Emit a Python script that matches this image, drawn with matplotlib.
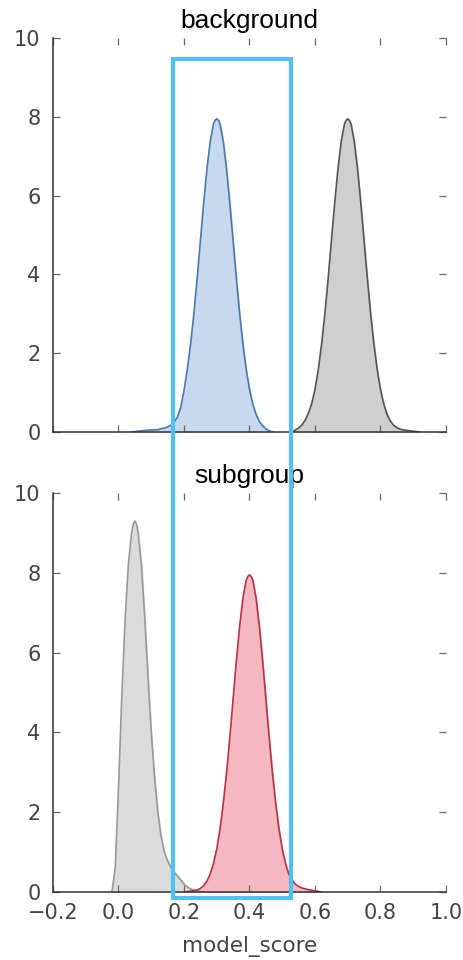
import matplotlib
matplotlib.use("Agg")
import matplotlib.pyplot as plt
from matplotlib.patches import Rectangle

# density curves
blue_x = [0.04, 0.06, 0.08, 0.10, 0.12, 0.14, 0.15, 0.16, 0.17, 0.18, 0.19, 0.20,
          0.21, 0.22, 0.23, 0.24, 0.25, 0.26, 0.27, 0.28, 0.29, 0.295, 0.30, 0.305,
          0.31, 0.32, 0.33, 0.34, 0.35, 0.36, 0.37, 0.38, 0.39, 0.40, 0.41, 0.42,
          0.43, 0.44, 0.45, 0.46, 0.47]
blue_y = [0.0, 0.02, 0.04, 0.05, 0.06, 0.1, 0.13, 0.17, 0.25, 0.38, 0.62, 1.05,
          1.58, 2.22, 2.99, 3.88, 4.84, 5.80, 6.67, 7.37, 7.82, 7.91, 7.95, 7.91,
          7.82, 7.37, 6.67, 5.80, 4.84, 3.88, 2.99, 2.22, 1.58, 1.08, 0.71, 0.45,
          0.27, 0.16, 0.08, 0.03, 0.0]

grey_top_x = [0.53, 0.55, 0.56, 0.57, 0.58, 0.59, 0.60, 0.61, 0.62, 0.63, 0.64,
              0.65, 0.66, 0.67, 0.68, 0.69, 0.695, 0.70, 0.705, 0.71, 0.72, 0.73,
              0.74, 0.75, 0.76, 0.77, 0.78, 0.79, 0.80, 0.81, 0.82, 0.83, 0.84,
              0.85, 0.86, 0.88, 0.90, 0.92]
grey_top_y = [0.0, 0.1, 0.18, 0.3, 0.48, 0.72, 1.08, 1.58, 2.22, 2.99, 3.88,
              4.84, 5.80, 6.67, 7.37, 7.82, 7.91, 7.95, 7.91, 7.82, 7.37, 6.67,
              5.80, 4.84, 3.88, 2.99, 2.22, 1.58, 1.08, 0.71, 0.45, 0.28, 0.17,
              0.11, 0.07, 0.04, 0.02, 0.0]

grey_bot_x = [-0.02, -0.01, 0.00, 0.01, 0.02, 0.03, 0.04, 0.045, 0.05, 0.055, 0.06,
              0.07, 0.08, 0.09, 0.10, 0.11, 0.12, 0.13, 0.14, 0.15, 0.16, 0.17,
              0.18, 0.19, 0.20, 0.21, 0.22, 0.23, 0.24, 0.25, 0.26]
grey_bot_y = [0.0, 0.6, 2.6, 4.9, 6.8, 8.2, 9.0, 9.22, 9.3, 9.22, 9.0,
              8.2, 6.9, 5.4, 4.0, 2.9, 2.0, 1.4, 1.0, 0.78, 0.62, 0.5,
              0.4, 0.3, 0.2, 0.13, 0.08, 0.05, 0.03, 0.01, 0.0]

red_x = [0.20, 0.22, 0.24, 0.25, 0.26, 0.27, 0.28, 0.29, 0.30, 0.31, 0.32, 0.33,
         0.34, 0.35, 0.36, 0.37, 0.38, 0.39, 0.395, 0.40, 0.405, 0.41, 0.42, 0.43,
         0.44, 0.45, 0.46, 0.47, 0.48, 0.49, 0.50, 0.51, 0.52, 0.53, 0.54, 0.55,
         0.56, 0.58, 0.60, 0.62]
red_y = [0.0, 0.02, 0.05, 0.09, 0.16, 0.27, 0.45, 0.71, 1.08, 1.58, 2.22, 2.99,
         3.88, 4.84, 5.80, 6.67, 7.37, 7.82, 7.91, 7.95, 7.91, 7.82, 7.37, 6.67,
         5.80, 4.84, 3.88, 2.99, 2.22, 1.58, 1.08, 0.71, 0.45, 0.3, 0.2, 0.14,
         0.1, 0.06, 0.03, 0.0]

# highlight box (data coords: left/top in top panel, right/bottom in bottom panel)
box_left, box_top = 0.166, 9.47
box_right, box_bottom = 0.527, -0.15

fig = plt.figure(figsize=(4.64, 9.6), dpi=100)
ax1 = fig.add_axes([0.1142, 0.55, 0.847, 0.4104])
ax2 = fig.add_axes([0.1142, 0.0708, 0.847, 0.4156])

ax1.fill_between(blue_x, blue_y, color="#c6d9ee")
ax1.plot(blue_x, blue_y, color="#4a7aa8", lw=1.2)
ax1.fill_between(grey_top_x, grey_top_y, color="#cfcfcf")
ax1.plot(grey_top_x, grey_top_y, color="#555555", lw=1.2)

ax2.fill_between(grey_bot_x, grey_bot_y, color="#dcdcdc")
ax2.plot(grey_bot_x, grey_bot_y, color="#999999", lw=1.2)
ax2.fill_between(red_x, red_y, color="#f5b8c0")
ax2.plot(red_x, red_y, color="#b8324a", lw=1.2)

for ax, title in [(ax1, "background"), (ax2, "subgroup")]:
    ax.set_xlim(-0.2, 1.0)
    ax.set_ylim(0, 10)
    ax.set_yticks([0, 2, 4, 6, 8, 10])
    ax.set_xticks([-0.2, 0.0, 0.2, 0.4, 0.6, 0.8, 1.0])
    ax.spines["top"].set_visible(False)
    ax.spines["right"].set_visible(False)
    ax.spines["left"].set_color("#333333")
    ax.spines["bottom"].set_color("#333333")
    ax.spines["left"].set_linewidth(1.1)
    ax.spines["bottom"].set_linewidth(1.1)
    ax.tick_params(direction="in", top=True, right=True, length=5, width=0.9,
                   color="#666666", labelsize=15, labelcolor="#444444")
    ax.tick_params(axis="y", pad=9)
    ax.tick_params(axis="x", pad=8)
    ax.set_title(title, fontsize=19, family="Liberation Sans", pad=7)

ax1.tick_params(labelbottom=False)
ax2.set_xlabel("model_score", fontsize=15.5, color="#444444", labelpad=9)

fig.canvas.draw()
p_tl = fig.transFigure.inverted().transform(ax1.transData.transform((box_left, box_top)))
p_br = fig.transFigure.inverted().transform(ax2.transData.transform((box_right, box_bottom)))
fig.patches.append(Rectangle((p_tl[0], p_br[1]), p_br[0] - p_tl[0], p_tl[1] - p_br[1],
                             transform=fig.transFigure, fill=False,
                             edgecolor="#4fc1f5", lw=3, zorder=10))

fig.savefig("out.png", dpi=100, facecolor="white")
